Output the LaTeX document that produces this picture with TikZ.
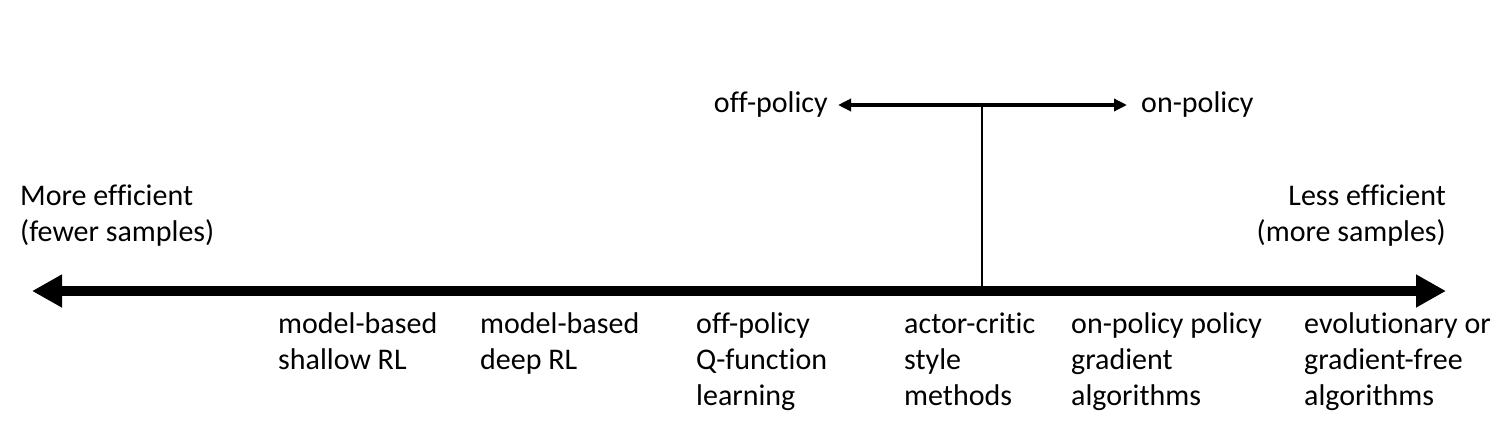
\documentclass[tikz,border=0pt]{standalone}
\usepackage{fontspec}
\setmainfont{Carlito}[Ligatures=NoCommon]
\usetikzlibrary{arrows.meta}
\tikzstyle{axis}=[line width=10pt,{Triangle[length=30pt,width=31pt]}-{Triangle[length=30pt,width=31pt]}]
\tikzstyle{pol}=[line width=3.5pt,{Triangle[length=13pt,width=12pt]}-{Triangle[length=13pt,width=12pt]}]
\tikzstyle{branch}=[line width=2.5pt]
\tikzstyle{lbl}=[inner sep=0pt, align=left, font=\fontsize{30}{36}\selectfont]
\tikzstyle{alg}=[lbl, anchor=north west]

\begin{document}
\begin{tikzpicture}[x=1pt,y=-1pt]
				\useasboundingbox (0,0) rectangle (1504,436);
				
				%The axis
				\coordinate (l) at (32,291);
				\coordinate (r) at (1446,291);
				\draw[axis] (l) -- (r);
				
				%The two ends
				\draw (20,216) node[lbl,anchor=west] (more) {More efficient\\(fewer samples)};
				\draw (1446,216) node[lbl,anchor=east,align=right] (less) {Less efficient\\(more samples)};
				
				%The algorithms
				\draw (278,308) node[alg] (mbs) {\strut model-based\\shallow RL};
				\draw (480,308) node[alg] (mbd) {\strut model-based\\deep RL};
				\draw (696,308) node[alg] (qf) {\strut off-policy\\Q-function\\learning};
				\draw (904,308) node[alg] (ac) {\strut actor-critic\\style\\methods};
				\draw (1071,308) node[alg] (pg) {\strut on-policy policy\\gradient\\algorithms};
				\draw (1304,308) node[alg] (evo) {\strut evolutionary or\\gradient-free\\algorithms};
				
				%The policy split
				\coordinate (foot) at (982,291);
				\coordinate (top) at (982,104);
				\draw (828,105) node[lbl,anchor=east] (off) {off-policy};
				\draw (1141,105) node[lbl,anchor=west] (on) {on-policy};
				
				\draw[branch] (foot) -- (top);
				\draw[pol] ([xshift=10pt]off.east) -- ([xshift=-14pt]on.west);
			\end{tikzpicture}
\end{document}
